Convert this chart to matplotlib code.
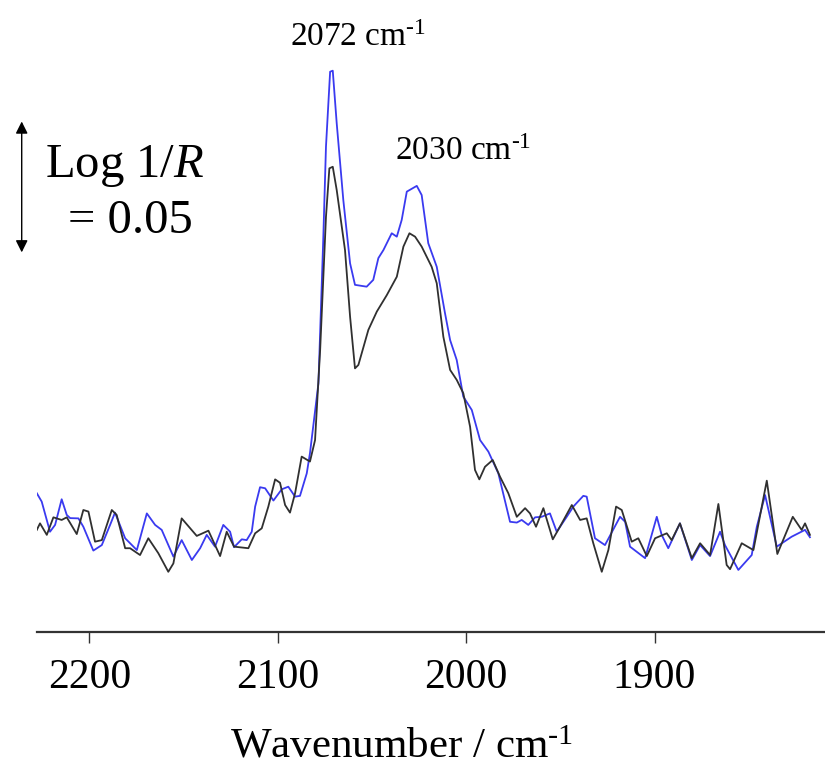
import matplotlib
matplotlib.use("Agg")
import matplotlib.pyplot as plt

# Spectrum values (wavenumber in cm-1, Log 1/R)
wn_blue = [2227.9, 2225.3, 2220.9, 2218.2, 2214.7, 2212.0, 2210.2, 2205.8, 2203.2, 2197.9,
           2193.4, 2189.0, 2186.4, 2181.0, 2174.8, 2169.5, 2165.1, 2161.6, 2155.4, 2151.0,
           2145.6, 2141.2, 2137.7, 2133.3, 2128.9, 2125.3, 2123.2, 2119.1, 2116.5, 2113.8,
           2112.0, 2109.4, 2106.7, 2102.3, 2097.9, 2094.4, 2090.8, 2088.2, 2084.6, 2082.9,
           2078.4, 2075.8, 2074.4, 2072.2, 2070.8, 2068.7, 2065.2, 2061.6, 2059.0, 2052.8,
           2049.3, 2046.6, 2043.9, 2039.5, 2036.8, 2034.2, 2031.5, 2026.2, 2023.6, 2020.1,
           2015.6, 2011.2, 2008.5, 2005.0, 2001.5, 1997.0, 1992.6, 1988.2, 1982.9, 1976.7,
           1973.1, 1970.5, 1967.0, 1963.4, 1959.9, 1955.5, 1951.9, 1946.6, 1943.1, 1937.8,
           1936.0, 1931.6, 1926.3, 1918.3, 1915.6, 1913.0, 1905.0, 1898.8, 1896.2, 1892.7,
           1886.5, 1880.2, 1875.8, 1870.5, 1865.2, 1862.6, 1855.5, 1848.4, 1845.7, 1841.3,
           1835.1, 1827.2, 1820.1, 1817.5]
abs_blue = [0.0530, 0.0498, 0.0383, 0.0409, 0.0507, 0.0447, 0.0435, 0.0434, 0.0402, 0.0311,
            0.0332, 0.0409, 0.0456, 0.0358, 0.0313, 0.0453, 0.0409, 0.0390, 0.0288, 0.0351,
            0.0275, 0.0320, 0.0371, 0.0326, 0.0409, 0.0383, 0.0324, 0.0354, 0.0351, 0.0383,
            0.0479, 0.0553, 0.0549, 0.0502, 0.0545, 0.0555, 0.0517, 0.0520, 0.0606, 0.0683,
            0.0950, 0.1510, 0.1854, 0.2140, 0.2144, 0.1943, 0.1650, 0.1408, 0.1326, 0.1319,
            0.1345, 0.1428, 0.1459, 0.1523, 0.1510, 0.1574, 0.1682, 0.1704, 0.1669, 0.1485,
            0.1395, 0.1217, 0.1115, 0.1039, 0.0899, 0.0848, 0.0733, 0.0689, 0.0606, 0.0421,
            0.0418, 0.0428, 0.0409, 0.0438, 0.0440, 0.0453, 0.0383, 0.0440, 0.0479, 0.0520,
            0.0517, 0.0358, 0.0332, 0.0440, 0.0421, 0.0326, 0.0282, 0.0440, 0.0371, 0.0320,
            0.0415, 0.0275, 0.0332, 0.0290, 0.0383, 0.0332, 0.0237, 0.0294, 0.0402, 0.0523,
            0.0326, 0.0364, 0.0390, 0.0362]

wn_black = [2227.9, 2226.2, 2222.6, 2219.1, 2214.7, 2212.0, 2206.7, 2203.2, 2200.5, 2197.0,
            2193.4, 2188.1, 2185.5, 2181.0, 2178.4, 2173.1, 2168.7, 2163.4, 2158.1, 2155.4,
            2151.0, 2143.0, 2136.8, 2130.6, 2127.1, 2123.2, 2115.6, 2112.0, 2108.5, 2105.0,
            2101.4, 2098.8, 2096.1, 2093.5, 2090.8, 2087.3, 2082.9, 2080.2, 2077.5, 2074.4,
            2072.6, 2070.8, 2068.7, 2064.3, 2061.6, 2059.0, 2057.2, 2051.9, 2047.4, 2042.1,
            2036.8, 2033.3, 2030.1, 2027.1, 2023.6, 2018.3, 2015.6, 2012.1, 2008.5, 2005.0,
            2001.5, 1997.9, 1995.3, 1993.0, 1990.0, 1985.9, 1982.0, 1977.6, 1973.1, 1968.7,
            1966.1, 1962.9, 1959.0, 1954.0, 1950.2, 1943.9, 1939.5, 1936.0, 1932.5, 1928.0,
            1924.5, 1920.4, 1917.4, 1912.1, 1908.6, 1904.1, 1899.7, 1893.5, 1890.9, 1886.5,
            1880.2, 1875.8, 1870.5, 1866.1, 1861.7, 1859.9, 1853.7, 1847.5, 1840.4, 1834.8,
            1826.6, 1821.9, 1820.1, 1817.5]
abs_black = [0.0390, 0.0415, 0.0371, 0.0438, 0.0428, 0.0438, 0.0374, 0.0466, 0.0460, 0.0345,
             0.0351, 0.0466, 0.0447, 0.0320, 0.0320, 0.0294, 0.0358, 0.0301, 0.0230, 0.0262,
             0.0434, 0.0367, 0.0387, 0.0290, 0.0383, 0.0326, 0.0320, 0.0377, 0.0396, 0.0479,
             0.0583, 0.0570, 0.0485, 0.0456, 0.0530, 0.0670, 0.0651, 0.0733, 0.1077, 0.1586,
             0.1771, 0.1777, 0.1688, 0.1459, 0.1204, 0.1007, 0.1020, 0.1154, 0.1224, 0.1287,
             0.1357, 0.1472, 0.1523, 0.1510, 0.1472, 0.1395, 0.1332, 0.1128, 0.1001, 0.0963,
             0.0912, 0.0784, 0.0619, 0.0583, 0.0631, 0.0657, 0.0593, 0.0530, 0.0440, 0.0473,
             0.0453, 0.0402, 0.0473, 0.0354, 0.0402, 0.0485, 0.0428, 0.0434, 0.0339, 0.0230,
             0.0313, 0.0479, 0.0466, 0.0345, 0.0358, 0.0290, 0.0358, 0.0377, 0.0351, 0.0415,
             0.0282, 0.0339, 0.0294, 0.0489, 0.0256, 0.0240, 0.0339, 0.0313, 0.0578, 0.0298,
             0.0440, 0.0390, 0.0415, 0.0371]

x_ticks = [2200, 2100, 2000, 1900]
peak_labels = ["2072 cm$^{\\text{-1}}$", "2030 cm$^{\\text{-1}}$"]
scale_bar = 0.05  # Log 1/R

plt.rcParams["font.family"] = ["Liberation Serif", "DejaVu Serif"]
plt.rcParams["mathtext.fontset"] = "custom"
plt.rcParams["mathtext.rm"] = "Liberation Serif"
plt.rcParams["mathtext.it"] = "Liberation Serif:italic"

fig = plt.figure(figsize=(8.25, 7.69), dpi=100)
ax = fig.add_axes([37 / 825, 137 / 769, 788 / 825, 632 / 769])

ax.plot(wn_blue, abs_blue, color="#3a3af0", linewidth=1.3, solid_joinstyle="round")
ax.plot(wn_black, abs_black, color="#303030", linewidth=1.3, solid_joinstyle="round")

ax.set_xlim(2227.8, 1809.5)
ax.set_ylim(0, 0.2414)

for side in ("top", "left", "right"):
    ax.spines[side].set_visible(False)
ax.spines["bottom"].set_color("#333333")
ax.spines["bottom"].set_linewidth(1.6)
ax.set_yticks([])
ax.set_xticks(x_ticks)
ax.set_xticklabels([str(t) for t in x_ticks])
ax.tick_params(axis="x", direction="out", length=8, width=1, color="#333333",
               labelsize=30, pad=11)

ax.set_xlabel("Wavenumber / cm$^{\\text{-1}}$", fontsize=31)
ax.xaxis.set_label_coords(0.463, -0.152)

# peak labels
ax.text(0.321, 0.9277, peak_labels[0], transform=ax.transAxes, fontsize=24,
        ha="left", va="baseline")
ax.text(0.454, 0.7468, peak_labels[1], transform=ax.transAxes, fontsize=24,
        ha="left", va="baseline")

# scale bar
ax.annotate("", xy=(-0.0194, 0.145 + scale_bar), xytext=(-0.0194, 0.145),
            xycoords=("axes fraction", "data"), textcoords=("axes fraction", "data"),
            arrowprops=dict(arrowstyle="<|-|>", color="black", lw=1.0,
                            mutation_scale=18, shrinkA=0, shrinkB=0),
            annotation_clip=False)
ax.text(0.1117, 0.72, "Log 1/$R$", transform=ax.transAxes, fontsize=35,
        ha="center", va="baseline")
ax.text(0.119, 0.631, f"= {scale_bar:.2f}", transform=ax.transAxes, fontsize=35,
        ha="center", va="baseline")

fig.savefig("out.png", dpi=100)
